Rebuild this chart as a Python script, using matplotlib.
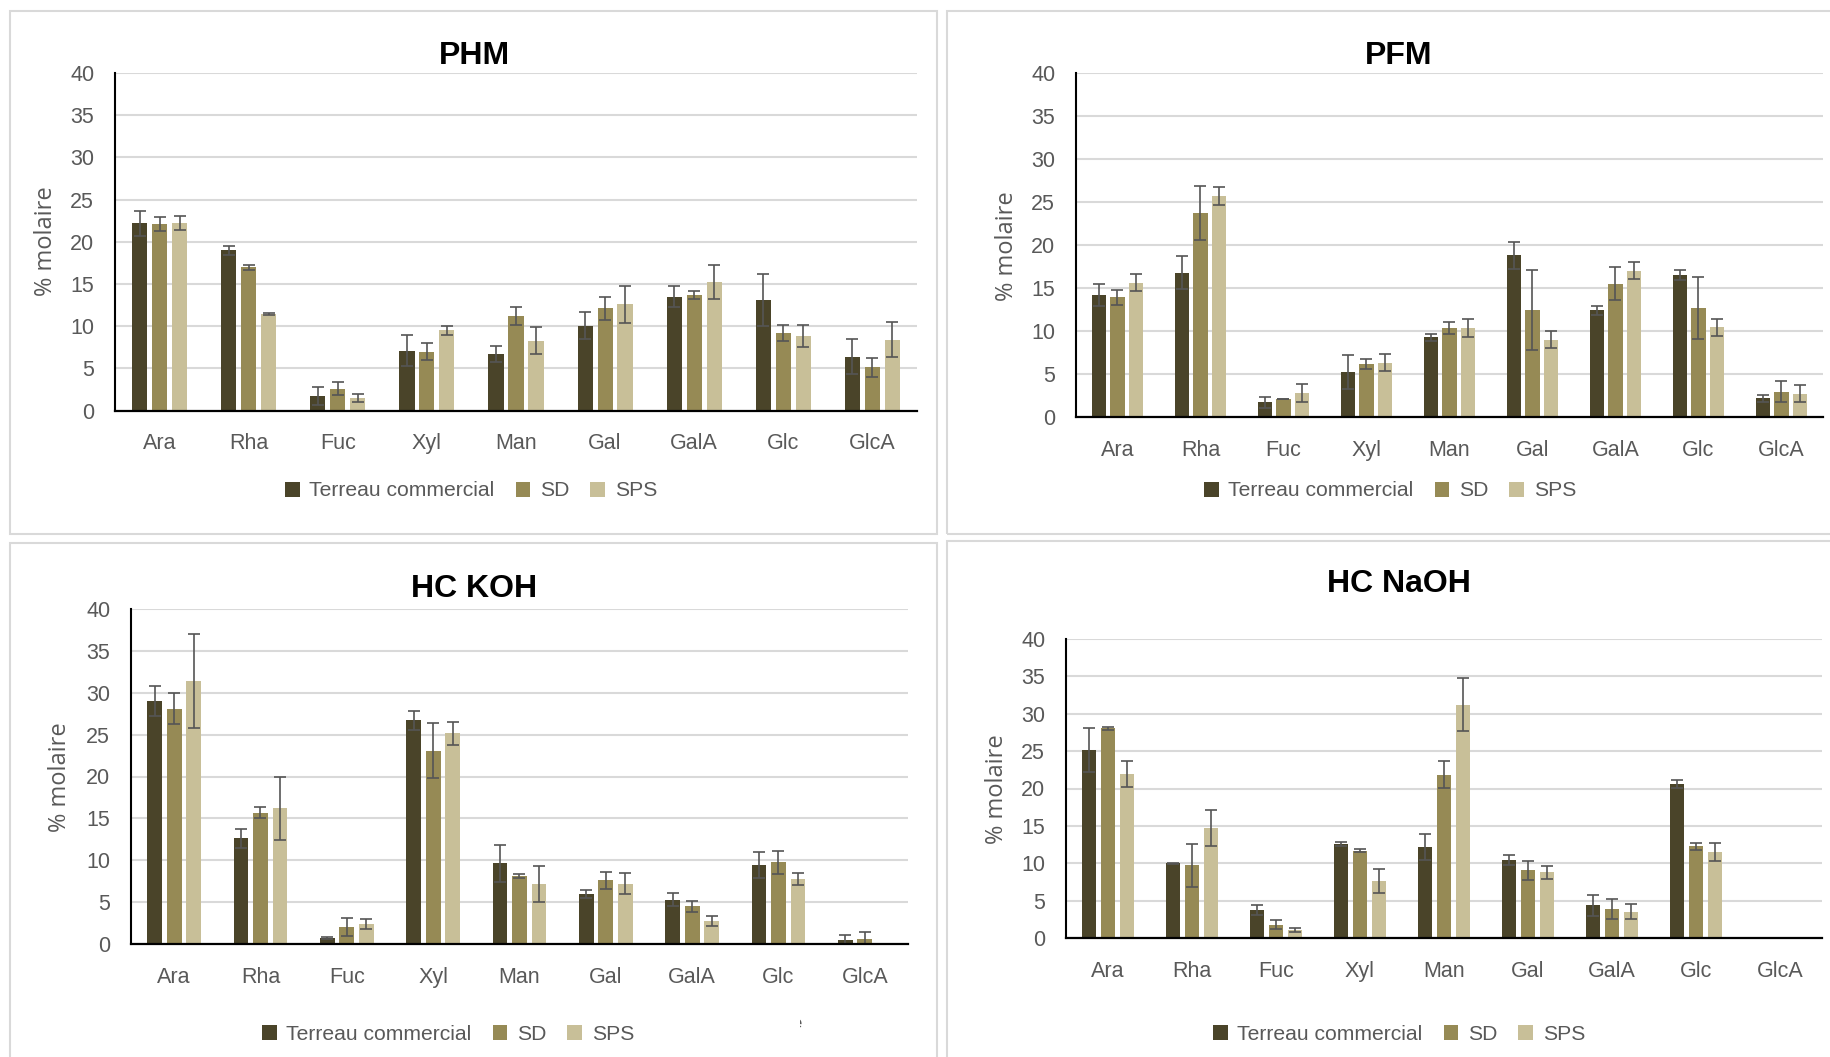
import numpy as np
import matplotlib.pyplot as plt
from matplotlib.patches import Patch, Rectangle
from matplotlib.transforms import Bbox, TransformedBbox

W, H = 1831, 1057

categories = ["Ara", "Rha", "Fuc", "Xyl", "Man", "Gal", "GalA", "Glc", "GlcA"]
series_names = ["Terreau commercial", "SD", "SPS"]
y_ticks = [0, 5, 10, 15, 20, 25, 30, 35, 40]

# PHM
phm_t = [22.2, 19.0, 1.7, 7.1, 6.7, 10.05, 13.5, 13.1, 6.4]
phm_sd = [22.1, 17.0, 2.6, 6.95, 11.2, 12.1, 13.7, 9.15, 5.1]
phm_sps = [22.2, 11.4, 1.5, 9.5, 8.25, 12.6, 15.2, 8.8, 8.4]
phm_t_err = [1.5, 0.55, 1.1, 1.8, 1.0, 1.6, 1.2, 3.05, 2.1]
phm_sd_err = [0.8, 0.3, 0.75, 1.0, 1.1, 1.4, 0.45, 0.95, 1.1]
phm_sps_err = [0.8, 0.1, 0.5, 0.55, 1.6, 2.2, 2.0, 1.3, 2.1]

# PFM
pfm_t = [14.2, 16.8, 1.7, 5.25, 9.25, 18.8, 12.4, 16.5, 2.2]
pfm_sd = [13.9, 23.7, 2.1, 6.15, 10.4, 12.4, 15.5, 12.7, 2.95]
pfm_sps = [15.6, 25.7, 2.8, 6.3, 10.3, 9.0, 17.0, 10.45, 2.7]
pfm_t_err = [1.25, 1.95, 0.65, 2.0, 0.4, 1.6, 0.55, 0.6, 0.4]
pfm_sd_err = [0.9, 3.15, 0.05, 0.55, 0.7, 4.65, 1.9, 3.6, 1.2]
pfm_sps_err = [1.0, 1.0, 1.0, 1.0, 1.05, 1.0, 1.0, 1.0, 1.0]

# HC KOH
koh_t = [29.0, 12.6, 0.7, 26.7, 9.65, 5.95, 5.3, 9.4, 0.5]
koh_sd = [28.1, 15.7, 2.0, 23.1, 8.1, 7.6, 4.5, 9.75, 0.65]
koh_sps = [31.4, 16.2, 2.4, 25.15, 7.2, 7.2, 2.75, 7.75, 0.05]
koh_t_err = [1.75, 1.1, 0.1, 1.15, 2.2, 0.5, 0.75, 1.55, 0.55]
koh_sd_err = [1.85, 0.7, 1.1, 3.25, 0.2, 1.05, 0.65, 1.35, 0.8]
koh_sps_err = [5.65, 3.8, 0.6, 1.35, 2.15, 1.25, 0.6, 0.7, 0.0]

# HC NaOH
naoh_t = [25.1, 10.0, 3.75, 12.6, 12.15, 10.4, 4.35, 20.6, 0.05]
naoh_sd = [28.05, 9.7, 1.8, 11.7, 21.85, 9.05, 3.9, 12.25, 0.05]
naoh_sps = [21.95, 14.7, 1.1, 7.65, 31.2, 8.8, 3.5, 11.5, 0.05]
naoh_t_err = [2.95, 0.05, 0.65, 0.3, 1.7, 0.65, 1.4, 0.5, 0.0]
naoh_sd_err = [0.2, 2.9, 0.6, 0.25, 1.8, 1.3, 1.35, 0.5, 0.0]
naoh_sps_err = [1.75, 2.4, 0.3, 1.6, 3.55, 0.85, 1.0, 1.2, 0.0]

colors = ["#4a4429", "#968a55", "#c8bf98"]
text_gray = "#595959"
grid_gray = "#d9d9d9"
tick_font = ["Liberation Sans", "DejaVu Sans"]


# Convert a pixel box (left, top, right, bottom) into figure fractions
def px_rect(l, t, r, b):
    return [l / W, 1 - b / H, (r - l) / W, (b - t) / H]


def draw_panel(fig, box, title, title_xy, ylabel_xy, legend_xy, values, errors):
    ax = fig.add_axes(px_rect(*box))
    x = np.arange(len(categories))
    step = 0.224
    for i in range(3):
        ax.bar(x + (i - 1) * step, values[i], width=0.17, color=colors[i],
               yerr=errors[i], zorder=3,
               error_kw=dict(ecolor="#555555", elinewidth=1.2, capsize=4.5, capthick=1.2))

    ax.set_xlim(-0.5, len(categories) - 0.5)
    ax.set_ylim(0, 40)
    ax.set_yticks(y_ticks)
    ax.set_xticks(x)
    ax.set_xticklabels(categories)
    ax.yaxis.grid(True, color=grid_gray, linewidth=1.5, zorder=0)
    ax.set_axisbelow(True)
    for s in ["top", "right"]:
        ax.spines[s].set_visible(False)
    ax.spines["left"].set_linewidth(1.5)
    ax.spines["bottom"].set_linewidth(1.6)
    ax.spines["bottom"].set_zorder(4)
    ax.tick_params(axis="both", length=0, labelcolor=text_gray, labelsize=15.5)
    ax.tick_params(axis="y", pad=15)
    ax.tick_params(axis="x", pad=16.5)
    for lab in ax.get_xticklabels() + ax.get_yticklabels():
        lab.set_family(tick_font)

    fig.text(title_xy[0] / W, 1 - title_xy[1] / H, title, ha="center", va="center",
             fontsize=23, fontweight="bold", family=tick_font, color="black")
    fig.text(ylabel_xy[0] / W, 1 - ylabel_xy[1] / H, "% molaire", rotation=90,
             ha="center", va="center", fontsize=17, family=["Open Sans", "DejaVu Sans"],
             color=text_gray)

    handles = [Patch(facecolor=c, edgecolor="none") for c in colors]
    leg = fig.legend(handles, series_names, loc="center", ncol=3, frameon=False,
                     bbox_to_anchor=(legend_xy[0] / W, 1 - legend_xy[1] / H),
                     handlelength=0.7, handleheight=0.7, handletextpad=0.45,
                     columnspacing=1.0, prop={"family": tick_font, "size": 15.2})
    for t in leg.get_texts():
        t.set_color(text_gray)
    return ax


fig = plt.figure(figsize=(W / 100, H / 100), dpi=100)

# light grey frames around each panel
for (l, t, r, b) in [(10, 11, 937, 534), (947, 11, 1845, 534),
                     (10, 543, 937, 1070), (947, 541, 1845, 1070)]:
    fig.patches.append(Rectangle((l / W, 1 - b / H), (r - l) / W, (b - t) / H,
                                 transform=fig.transFigure, fill=False,
                                 edgecolor=grid_gray, linewidth=1.5))

draw_panel(fig, (115, 73, 917, 410.5), "PHM", (474, 56), (46, 241), (471, 491),
           [phm_t, phm_sd, phm_sps], [phm_t_err, phm_sd_err, phm_sps_err])
draw_panel(fig, (1076, 73, 1823, 417), "PFM", (1399, 56), (1007, 246), (1390, 491),
           [pfm_t, pfm_sd, pfm_sps], [pfm_t_err, pfm_sd_err, pfm_sps_err])
draw_panel(fig, (131, 609, 908, 944), "HC KOH", (474, 589), (60, 777), (448, 1034),
           [koh_t, koh_sd, koh_sps], [koh_t_err, koh_sd_err, koh_sps_err])
draw_panel(fig, (1066, 639, 1822, 938), "HC NaOH", (1399, 584), (997, 789), (1399, 1034),
           [naoh_t, naoh_sd, naoh_sps], [naoh_t_err, naoh_sd_err, naoh_sps_err])

# stray cut-off glyph in the lower left panel
stray = fig.text(797 / W, 1 - 1024 / H, "e", ha="center", va="center",
                 fontsize=12, color=text_gray, family=tick_font)
stray.set_clip_box(TransformedBbox(Bbox([[800 / W, 0], [1, 1]]), fig.transFigure))
stray.set_clip_on(True)

fig.savefig("out.png", dpi=100)
